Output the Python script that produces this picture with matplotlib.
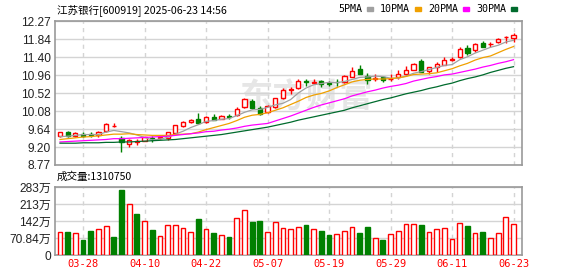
import numpy as np
import pandas as pd
import matplotlib
matplotlib.use('Agg')
import matplotlib.pyplot as plt
from matplotlib.patches import Rectangle

# daily candles, 江苏银行 600919
opens = [9.48, 9.56, 9.47, 9.53, 9.53, 9.49, 9.60, 9.72, 9.42, 9.28,
         9.34, 9.36, 9.43, 9.42, 9.42, 9.55, 9.72, 9.81, 9.90, 9.82,
         9.94, 9.90, 9.95, 9.98, 10.17, 10.33, 10.15, 10.07, 10.17, 10.40,
         10.59, 10.63, 10.80, 10.77, 10.80, 10.76, 10.79, 10.79, 10.92, 11.10,
         10.93, 10.87, 10.90, 10.85, 10.90, 10.99, 11.09, 11.29, 11.06, 11.16,
         11.21, 11.33, 11.39, 11.61, 11.57, 11.73, 11.70, 11.76, 11.88, 11.86]
highs = [9.58, 9.60, 9.56, 9.56, 9.58, 9.60, 9.80, 9.78, 9.47, 9.40,
         9.40, 9.46, 9.47, 9.46, 9.58, 9.75, 9.85, 9.89, 10.04, 9.95,
         10.01, 9.99, 10.01, 10.17, 10.41, 10.37, 10.20, 10.23, 10.40, 10.63,
         10.66, 10.85, 10.85, 10.86, 10.83, 10.81, 10.87, 10.95, 11.14, 11.20,
         11.01, 10.97, 10.93, 10.99, 11.07, 11.17, 11.25, 11.34, 11.15, 11.27,
         11.39, 11.39, 11.65, 11.69, 11.73, 11.79, 11.75, 11.85, 11.91, 11.97]
lows = [9.46, 9.46, 9.46, 9.45, 9.45, 9.44, 9.58, 9.69, 9.08, 9.21,
        9.26, 9.35, 9.33, 9.39, 9.38, 9.54, 9.70, 9.80, 9.77, 9.80,
        9.86, 9.88, 9.89, 9.95, 10.15, 10.12, 9.99, 10.04, 10.15, 10.37,
        10.50, 10.62, 10.70, 10.76, 10.66, 10.69, 10.69, 10.77, 10.90, 10.97,
        10.75, 10.80, 10.78, 10.82, 10.86, 10.95, 11.07, 11.03, 10.98, 11.04,
        11.19, 11.29, 11.37, 11.44, 11.52, 11.63, 11.65, 11.73, 11.73, 11.76]
closes = [9.57, 9.47, 9.54, 9.48, 9.51, 9.57, 9.76, 9.73, 9.32, 9.38,
          9.35, 9.45, 9.39, 9.44, 9.56, 9.74, 9.82, 9.86, 9.78, 9.94,
          9.87, 9.97, 9.94, 10.12, 10.37, 10.15, 10.02, 10.20, 10.39, 10.59,
          10.62, 10.81, 10.79, 10.78, 10.75, 10.75, 10.78, 10.93, 11.05, 10.98,
          10.83, 10.88, 10.84, 10.87, 10.97, 11.07, 11.23, 11.04, 11.14, 11.22,
          11.33, 11.34, 11.60, 11.50, 11.70, 11.65, 11.71, 11.84, 11.89, 11.92]
# volume in 万 shares, with the colour of each bar (r = up, g = down)
volumes = [97, 94, 92, 64, 98, 109, 122, 77, 270, 211,
           171, 143, 106, 80, 127, 126, 113, 94, 148, 109,
           90, 84, 73, 155, 189, 136, 140, 97, 139, 113,
           109, 118, 127, 109, 98, 85, 88, 101, 118, 90,
           115, 71, 64, 88, 101, 130, 130, 127, 97, 109,
           113, 67, 134, 119, 92, 94, 71, 92, 160, 131.075]
vol_side = list('rgrggrrggrgrgrrrrrgrgrgrrggrrrrrgrggrrrggrgrrrrgrrrrrgrgrrrr')

ma5 = [9.46, 9.47, 9.49, 9.51, 9.51, 9.51, 9.57, 9.61, 9.58, 9.55,
       9.50, 9.44, 9.38, 9.40, 9.44, 9.52, 9.59, 9.68, 9.75, 9.83,
       9.85, 9.88, 9.90, 9.97, 10.05, 10.11, 10.12, 10.17, 10.23, 10.27,
       10.36, 10.52, 10.64, 10.72, 10.75, 10.78, 10.77, 10.80, 10.85, 10.90,
       10.91, 10.93, 10.92, 10.88, 10.88, 10.93, 11.00, 11.04, 11.09, 11.14,
       11.19, 11.21, 11.33, 11.40, 11.49, 11.56, 11.63, 11.68, 11.76, 11.80]
ma10 = [9.39, 9.41, 9.43, 9.45, 9.46, 9.48, 9.50, 9.52, 9.52, 9.53,
        9.51, 9.50, 9.49, 9.49, 9.49, 9.51, 9.52, 9.53, 9.57, 9.63,
        9.68, 9.73, 9.78, 9.85, 9.93, 9.98, 10.00, 10.04, 10.10, 10.16,
        10.24, 10.32, 10.41, 10.47, 10.51, 10.57, 10.65, 10.72, 10.79, 10.83,
        10.85, 10.86, 10.86, 10.87, 10.89, 10.92, 10.97, 10.98, 10.99, 11.01,
        11.06, 11.11, 11.18, 11.24, 11.32, 11.38, 11.42, 11.50, 11.58, 11.65]
ma20 = [9.33, 9.34, 9.35, 9.36, 9.37, 9.38, 9.39, 9.41, 9.41, 9.42,
        9.43, 9.44, 9.45, 9.46, 9.47, 9.49, 9.51, 9.53, 9.55, 9.58,
        9.59, 9.62, 9.64, 9.67, 9.71, 9.74, 9.76, 9.78, 9.84, 9.90,
        9.96, 10.03, 10.10, 10.17, 10.23, 10.28, 10.33, 10.38, 10.45, 10.50,
        10.55, 10.59, 10.64, 10.68, 10.71, 10.75, 10.81, 10.85, 10.89, 10.92,
        10.96, 10.98, 11.02, 11.06, 11.10, 11.15, 11.19, 11.24, 11.28, 11.33]
ma30 = [9.30, 9.30, 9.30, 9.31, 9.31, 9.31, 9.32, 9.32, 9.33, 9.33,
        9.34, 9.35, 9.36, 9.37, 9.38, 9.39, 9.41, 9.43, 9.45, 9.47,
        9.49, 9.51, 9.54, 9.57, 9.60, 9.63, 9.66, 9.69, 9.73, 9.77,
        9.81, 9.86, 9.90, 9.94, 9.98, 10.02, 10.06, 10.10, 10.16, 10.21,
        10.26, 10.31, 10.36, 10.40, 10.45, 10.50, 10.54, 10.58, 10.63, 10.67,
        10.72, 10.76, 10.82, 10.87, 10.91, 10.96, 11.02, 11.07, 11.12, 11.16]

holidays = ['2025-04-04', '2025-05-01', '2025-05-02', '2025-05-05', '2025-06-02']
dates = pd.bdate_range('2025-03-25', '2025-06-23')
dates = dates[~dates.isin(pd.to_datetime(holidays))]

price_ticks = ['8.77', '9.20', '9.64', '10.08', '10.52', '10.96', '11.40', '11.84', '12.27']
vol_ticks = ['0', '70.84万', '142万', '213万', '283万']
vol_max = 283.36

RED = '#ff0000'
GREEN = '#008000'
GRID = '#d4d4d4'
BORDER = '#999999'

o = np.array(opens)
c = np.array(closes)
x = np.arange(len(o))
up = c >= o
colors = np.where(up, RED, GREEN)
faces = np.where(up, 'white', GREEN)
vup = np.array(vol_side) == 'r'
vcolors = np.where(vup, RED, GREEN)
vfaces = np.where(vup, 'white', GREEN)

W, H = 578, 276
fig = plt.figure(figsize=(W / 100, H / 100), dpi=100)
ax = fig.add_axes([55 / W, 1 - 165 / H, 467 / W, 144 / H])
axv = fig.add_axes([55 / W, 1 - 255 / H, 467 / W, 68 / H])

date_idx = np.arange(3, len(x), 8)
date_labels = [dates[i].strftime('%m-%d') for i in date_idx]

# price panel
ax.vlines(x, lows, highs, colors=colors, lw=1.0, zorder=3)
body = np.maximum(np.abs(c - o), 0.006)
ax.bar(x, body, bottom=np.minimum(o, c), width=0.55, color=faces,
       edgecolor=colors, lw=1.0, zorder=4)
ax.plot(x, ma5, color='#a0a0a0', lw=0.9, zorder=5)
ax.plot(x, ma10, color='#f0a000', lw=0.9, zorder=5)
ax.plot(x, ma20, color='#ff00ff', lw=0.9, zorder=5)
ax.plot(x, ma30, color='#006b2d', lw=0.9, zorder=5)
ax.text(23.3, 10.40, '东方财富', fontsize=24, fontweight='bold', color='#e6e6e6',
        family='Noto Sans CJK SC', ha='left', va='center', zorder=1, style='italic')

ax.set_ylim(8.77, 12.27)
ax.set_yticks(np.linspace(8.77, 12.27, 9))
ax.set_yticklabels(price_ticks)

# volume panel
axv.bar(x, volumes, width=0.62, color=vfaces, edgecolor=vcolors, lw=1.0, zorder=3)
axv.set_ylim(0, vol_max)
axv.set_yticks(np.linspace(0, vol_max, 5))
axv.set_yticklabels(vol_ticks)

for a in (ax, axv):
    a.set_xlim(-0.65, 60.1)
    a.set_xticks(date_idx)
    a.grid(axis='y', color=GRID, lw=1.0, zorder=0)
    a.grid(axis='x', color=GRID, lw=1.0, ls=(0, (3, 3)), zorder=0)
    a.tick_params(length=0, pad=3)
    for s in a.spines.values():
        s.set_color(BORDER)
        s.set_linewidth(1.2)
    for t in a.get_yticklabels():
        t.set_family(['Liberation Sans', 'Noto Sans CJK SC'])
        t.set_fontsize(8.6)
        t.set_color('#222222')
ax.set_xticklabels([])
axv.set_xticklabels(date_labels)
for t in axv.get_xticklabels():
    t.set_family('DejaVu Sans Mono')
    t.set_fontsize(7.5)
    t.set_color(RED)

# header text
fig.text(57 / W, 1 - 10 / H, '江苏银行[600919] 2025-06-23 14:56', fontsize=7.6,
         family=['Noto Sans CJK SC'], va='center', ha='left')
fig.text(57 / W, 1 - 177 / H, '成交量:1310750', fontsize=7.6,
         family=['Noto Sans CJK SC'], va='center', ha='left')

legend = [('5PMA', '#a0a0a0'), ('10PMA', '#f0a000'), ('20PMA', '#ff00ff'), ('30PMA', '#006b2d')]
lx = 338
for name, col in legend:
    fig.text(lx / W, 1 - 9 / H, name, fontsize=7.2, family='DejaVu Sans Mono',
             va='center', ha='left')
    lx += 6.0 * len(name) + 5
    fig.patches.append(Rectangle((lx / W, 1 - 11 / H), 6 / W, 4 / H, color=col,
                                 transform=fig.transFigure, figure=fig))
    lx += 13

fig.savefig('out.png', dpi=100)
